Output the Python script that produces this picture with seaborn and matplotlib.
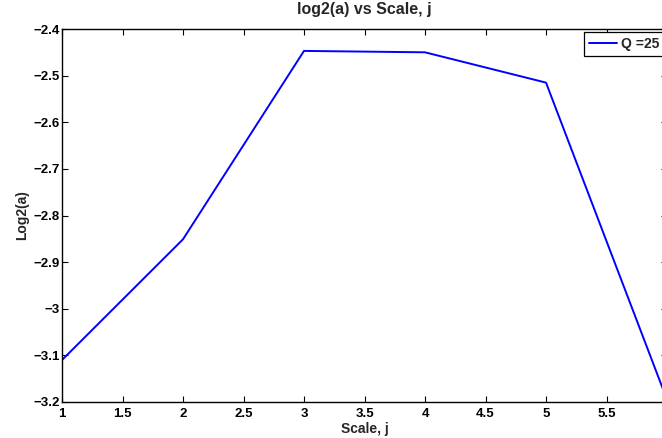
import matplotlib
matplotlib.use("Agg")
import matplotlib.pyplot as plt
import seaborn as sns
import pandas as pd

scale_j = [1, 2, 3, 4, 5, 6]
log2_a = [-3.110, -2.851, -2.447, -2.450, -2.515, -3.195]
series_label = "Q =25"
x_ticks = [1, 1.5, 2, 2.5, 3, 3.5, 4, 4.5, 5, 5.5, 6]
x_ticklabels = ["1", "1.5", "2", "2.5", "3", "3.5", "4", "4.5", "5", "5.5", ""]
y_ticks = [-3.2, -3.1, -3.0, -2.9, -2.8, -2.7, -2.6, -2.5, -2.4]
y_ticklabels = ["\u22123.2", "\u22123.1", "\u22123", "\u22122.9", "\u22122.8", "\u22122.7", "\u22122.6", "\u22122.5", "\u22122.4"]

sns.set_style("ticks")
plt.rcParams['font.family'] = ['Liberation Sans', 'DejaVu Sans']
plt.rcParams['font.weight'] = 'bold'

df = pd.DataFrame({"Scale, j": scale_j, "Log2(a)": log2_a, "series": series_label})

fig = plt.figure(figsize=(6.62, 4.38), dpi=100)
W, H = 662, 438
ax = fig.add_axes([62 / W, 1 - 402 / H, 605 / W, (402 - 29) / H])

sns.lineplot(data=df, x="Scale, j", y="Log2(a)", hue="series", palette=["#0000ff"],
             ax=ax, linewidth=1.4, legend=False)

ax.set_xlim(1, 6)
ax.set_ylim(-3.2, -2.4)
ax.set_xticks(x_ticks)
ax.set_xticklabels(x_ticklabels, fontsize=9.5, fontweight='bold')
ax.set_yticks(y_ticks)
ax.set_yticklabels(y_ticklabels, fontsize=9.5, fontweight='bold')
ax.tick_params(direction='in', length=4, width=0.8, top=True, right=True, colors='black')
ax.tick_params(axis='x', pad=4)
ax.tick_params(axis='y', pad=1.5)
for s in ax.spines.values():
    s.set_visible(True)
    s.set_color('black')
    s.set_linewidth(1.0)

ax.set_xlabel("Scale, j", fontsize=10, fontweight='bold', labelpad=2)
ax.set_ylabel("Log2(a)", fontsize=10, fontweight='bold', labelpad=3)
ax.set_title("log2(a) vs Scale, j", fontsize=11.5, fontweight='bold', pad=11)

line = ax.get_lines()[0]
leg = fig.legend([line], [series_label], loc='upper left',
                 bbox_to_anchor=(584 / W, 1 - 32 / H), bbox_transform=fig.transFigure,
                 fancybox=False, frameon=True, edgecolor='black', framealpha=1,
                 fontsize=10, handlelength=2.0, handletextpad=0.3, borderpad=0.35,
                 borderaxespad=0)
leg.get_frame().set_linewidth(0.9)
for t in leg.get_texts():
    t.set_fontweight('bold')

fig.savefig("out.png", dpi=100)
